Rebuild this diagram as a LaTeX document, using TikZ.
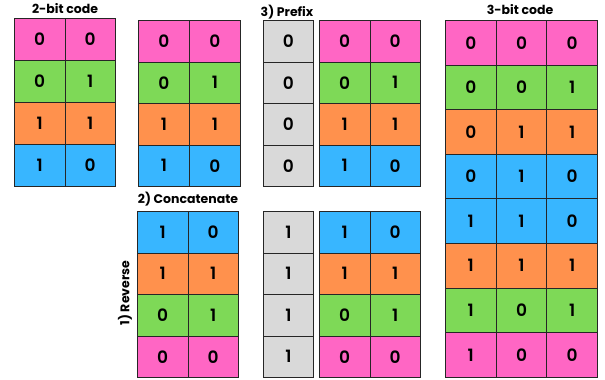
\documentclass[tikz,border=0pt]{standalone}
\usepackage{fontspec}
\setmainfont{Poppins}
\newfontfamily\digfont{Poppins SemiBold}
\definecolor{pk}{HTML}{FF66C4}
\definecolor{gr}{HTML}{7ED957}
\definecolor{orn}{HTML}{FF914D}
\definecolor{bl}{HTML}{38B6FF}
\definecolor{gy}{HTML}{D9D9D9}
\definecolor{edge}{HTML}{262626}
\newcommand\mkrow[7]{%
  \foreach \d [count=\i] in {#7} {%
    \node[cell, fill=#6, minimum width=#4, minimum height=#5, anchor=north west]
      (#1-\i) at ({#2+(\i-1)*#4},#3) {\d};
  }%
}
\begin{document}
\begin{tikzpicture}[x=1pt,y=-1pt,
  cell/.style={draw=edge, line width=0.9pt, inner sep=0pt, font=\digfont\fontsize{17}{17}\selectfont},
  lbl/.style={font=\bfseries\fontsize{12.5}{12.5}\selectfont, inner sep=0pt}]
\useasboundingbox (0,0) rectangle (605,380);
% 2-bit code
\mkrow{a1}{14}{18}{50.5}{42}{pk}{0,0}
\mkrow{a2}{14}{60}{50.5}{42}{gr}{0,1}
\mkrow{a3}{14}{102}{50.5}{42}{orn}{1,1}
\mkrow{a4}{14}{144}{50.5}{42}{bl}{1,0}
\node[lbl] (t1) at (65,9) {2-bit code};
% copy
\mkrow{b1}{138}{20}{51}{41.5}{pk}{0,0}
\mkrow{b2}{138}{61.5}{51}{41.5}{gr}{0,1}
\mkrow{b3}{138}{103}{51}{41.5}{orn}{1,1}
\mkrow{b4}{138}{144.5}{51}{41.5}{bl}{1,0}
% prefix 0
\mkrow{c1}{263}{20}{50}{41.5}{gy}{0}
\mkrow{c2}{263}{61.5}{50}{41.5}{gy}{0}
\mkrow{c3}{263}{103}{50}{41.5}{gy}{0}
\mkrow{c4}{263}{144.5}{50}{41.5}{gy}{0}
\mkrow{d1}{319}{20}{50.5}{41.5}{pk}{0,0}
\mkrow{d2}{319}{61.5}{50.5}{41.5}{gr}{0,1}
\mkrow{d3}{319}{103}{50.5}{41.5}{orn}{1,1}
\mkrow{d4}{319}{144.5}{50.5}{41.5}{bl}{1,0}
\node[lbl] (t3) at (287,12) {3) Prefix};
% reversed
\mkrow{e1}{137}{211}{50.5}{41.5}{bl}{1,0}
\mkrow{e2}{137}{252.5}{50.5}{41.5}{orn}{1,1}
\mkrow{e3}{137}{294}{50.5}{41.5}{gr}{0,1}
\mkrow{e4}{137}{335.5}{50.5}{41.5}{pk}{0,0}
\node[lbl] (t2) at (188,199) {2) Concatenate};
\node[lbl, rotate=90] (t4) at (125,293) {1) Reverse};
% prefix 1
\mkrow{f1}{263}{211}{50}{41.5}{gy}{1}
\mkrow{f2}{263}{252.5}{50}{41.5}{gy}{1}
\mkrow{f3}{263}{294}{50}{41.5}{gy}{1}
\mkrow{f4}{263}{335.5}{50}{41.5}{gy}{1}
\mkrow{g1}{319}{211}{50.5}{41.5}{bl}{1,0}
\mkrow{g2}{319}{252.5}{50.5}{41.5}{orn}{1,1}
\mkrow{g3}{319}{294}{50.5}{41.5}{gr}{0,1}
\mkrow{g4}{319}{335.5}{50.5}{41.5}{pk}{0,0}
% 3-bit code
\mkrow{h1}{445}{20}{50.7}{44.6}{pk}{0,0,0}
\mkrow{h2}{445}{64.6}{50.7}{44.6}{gr}{0,0,1}
\mkrow{h3}{445}{109.2}{50.7}{44.6}{orn}{0,1,1}
\mkrow{h4}{445}{153.8}{50.7}{44.6}{bl}{0,1,0}
\mkrow{h5}{445}{198.4}{50.7}{44.6}{bl}{1,1,0}
\mkrow{h6}{445}{243}{50.7}{44.6}{orn}{1,1,1}
\mkrow{h7}{445}{287.6}{50.7}{44.6}{gr}{1,0,1}
\mkrow{h8}{445}{332.2}{50.7}{44.6}{pk}{1,0,0}
\node[lbl] (t5) at (520,10) {3-bit code};
\end{tikzpicture}
\end{document}
